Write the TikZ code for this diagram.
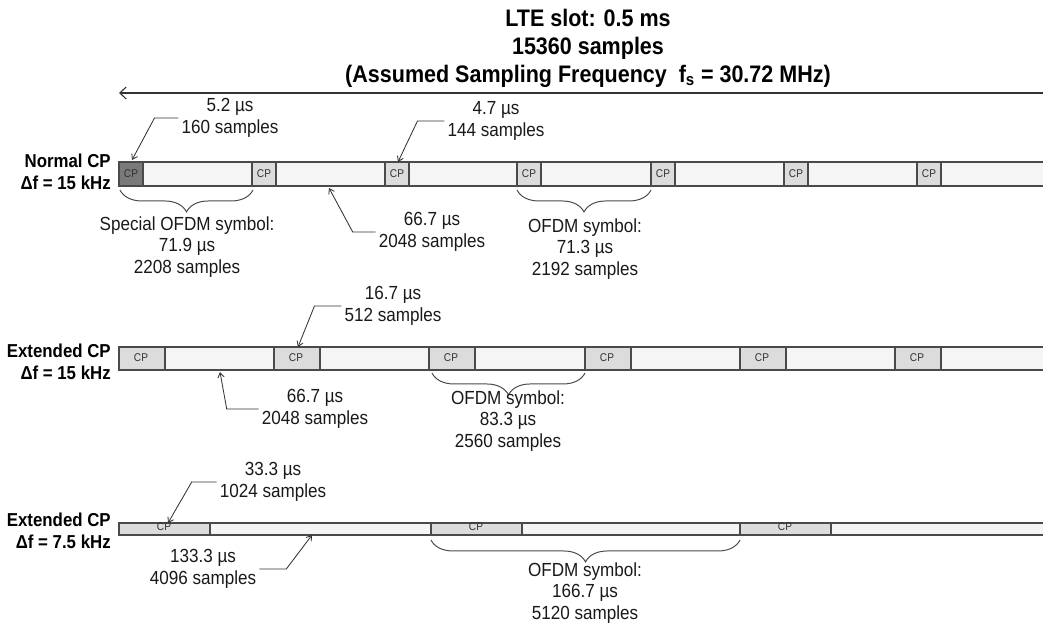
\documentclass[tikz,border=0pt]{standalone}
\usepackage{fontspec}
\setmainfont{Liberation Sans}
\newfontfamily\annfont[FakeStretch=0.9]{Liberation Sans}
\usetikzlibrary{arrows.meta,decorations.pathreplacing}
\definecolor{barfill}{HTML}{F5F5F5}
\definecolor{cpfill}{HTML}{DCDCDC}
\definecolor{cpdarkfill}{HTML}{7A7A7A}
\definecolor{edgegray}{HTML}{4A4A4A}
\tikzset{
  slotline/.style={line width=0.8pt, draw=black!80, {Straight Barb[length=1.6mm,width=3mm]}-},
  barbody/.style={fill=barfill, draw=none},
  baredge/.style={line width=0.9pt, draw=edgegray},
  cpbox/.style={fill=cpfill, draw=edgegray, line width=0.9pt},
  cpdark/.style={fill=cpdarkfill, draw=edgegray, line width=0.9pt},
  cptext/.style={font=\annfont\fontsize{8}{8}\selectfont, text=black!80, inner sep=0pt},
  ann/.style={font=\annfont\fontsize{13.5}{15.3}\selectfont, align=center, inner sep=2pt, text=black!90},
  rowlab/.style={font=\annfont\bfseries\fontsize{13.3}{15.3}\selectfont, align=right, anchor=east, inner sep=0pt},
  ttl/.style={font=\annfont\bfseries\fontsize{17}{19.9}\selectfont, align=center, inner sep=0pt},
  leader/.style={line width=0.6pt, draw=black!80, -{Straight Barb[length=1.2mm,width=1.6mm]}},
  symbrace/.style={decorate, decoration={brace, mirror, amplitude=15.6pt}, line width=0.7pt, draw=edgegray},
}
\begin{document}
\begin{tikzpicture}[x=0.025cm, y=-0.025cm]
\useasboundingbox (0,0) rectangle (1043,628);
% title and slot length
\node[ttl] (title) at (588,48) {LTE slot: 0.5 ms\\15360 samples\\(Assumed Sampling Frequency\ \ f\textsubscript{s} = 30.72 MHz)};
\coordinate (slotL) at (119,93);
\coordinate (slotR) at (1043,93);
\draw[slotline] (slotL) -- (slotR);

% normal CP, 15 kHz
\node[rowlab] (lab1) at (111,172) {Normal CP\\Δf = 15 kHz};
\fill[barbody] (119,162) rectangle (1043,186);
\draw[baredge] (1043,162) -- (119,162) -- (119,186) -- (1043,186);
\draw[cpdark] (119,162) rectangle (143,186);
\node[cptext] (cpa0) at (131,174) {CP};
\foreach \x [count=\i] in {252,385,517,651,784,917} {
  \draw[cpbox] (\x,162) rectangle ++(24,24);
  \node[cptext] (cpa\i) at (\x+12,174) {CP};
}
\node[ann] (n52) at (230,118) {5.2 µs\\160 samples};
\coordinate (t52) at (132,160);
\draw[leader] (n52.west) -- ++(-24,0) -- (t52);
\node[ann] (n47) at (496,121) {4.7 µs\\144 samples};
\coordinate (t47) at (398,162);
\draw[leader] (n47.west) -- ++(-27,0) -- (t47);
\node[ann] (n667a) at (432,232) {66.7 µs\\2048 samples};
\coordinate (t667a) at (329,188);
\draw[leader] (n667a.west) -- ++(-23,0) -- (t667a);
\draw[symbrace] (120,190) -- (253,190);
\node[ann] (sym1) at (187,247) {Special OFDM symbol:\\71.9 µs\\2208 samples};
\draw[symbrace] (517,190) -- (651,190);
\node[ann] (sym2) at (585,249) {OFDM symbol:\\71.3 µs\\2192 samples};

% extended CP, 15 kHz
\node[rowlab] (lab2) at (111,362) {Extended CP\\Δf = 15 kHz};
\fill[barbody] (119,347) rectangle (1043,370);
\draw[baredge] (1043,347) -- (119,347) -- (119,370) -- (1043,370);
\foreach \x [count=\i] in {119,274,429,585,740,895} {
  \draw[cpbox] (\x,347) rectangle ++(46,23);
  \node[cptext] (cpb\i) at (\x+22,358) {CP};
}
\node[ann] (n167) at (393,306) {16.7 µs\\512 samples};
\coordinate (t167) at (298,347);
\draw[leader] (n167.west) -- ++(-27,0) -- (t167);
\node[ann] (n667b) at (315,409) {66.7 µs\\2048 samples};
\coordinate (t667b) at (220,372);
\draw[leader] (n667b.west) -- ++(-32,0) -- (t667b);
\draw[symbrace] (432,373) -- (585,373);
\node[ann] (sym3) at (508,421) {OFDM symbol:\\83.3 µs\\2560 samples};

% extended CP, 7.5 kHz
\node[rowlab] (lab3) at (111,531) {Extended CP\\Δf = 7.5 kHz};
\fill[barbody] (119,523) rectangle (1043,535);
\draw[baredge] (1043,523) -- (119,523) -- (119,535) -- (1043,535);
\foreach \x [count=\i] in {119,431,740} {
  \draw[cpbox] (\x,523) rectangle ++(91,12);
  \node[cptext] (cpc\i) at (\x+45,527) {CP};
}
\node[ann] (n333) at (273,482) {33.3 µs\\1024 samples};
\coordinate (t333) at (168,523);
\draw[leader] (n333.west) -- ++(-25,0) -- (t333);
\node[ann] (n1333) at (203,569) {133.3 µs\\4096 samples};
\coordinate (t1333) at (312,535);
\draw[leader] (n1333.east) -- ++(27,0) -- (t1333);
\draw[symbrace] (431,540) -- (740,540);
\node[ann] (sym4) at (585,593) {OFDM symbol:\\166.7 µs\\5120 samples};
\end{tikzpicture}
\end{document}
